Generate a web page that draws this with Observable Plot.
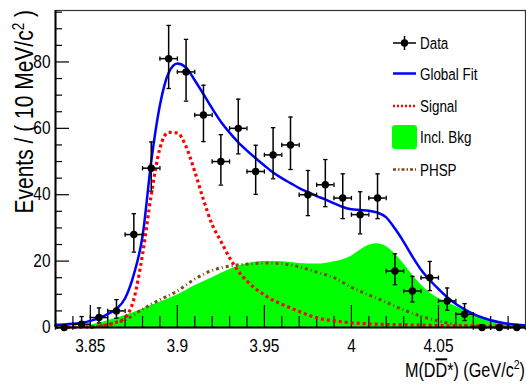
<!DOCTYPE html>
<html><head><meta charset="utf-8">
<script src="https://cdn.jsdelivr.net/npm/d3@7"></script>
<script src="https://cdn.jsdelivr.net/npm/@observablehq/plot@0.6"></script>
<style>body{margin:0;background:#fff}</style>
</head><body><div id="chart"></div>
<script>
// ---- data ----
const binCenters = [3.835,3.845,3.855,3.865,3.875,3.885,3.895,3.905,3.915,3.925,3.935,3.945,3.955,3.965,3.975,3.985,3.995,4.005,4.015,4.025,4.035,4.045,4.055,4.065,4.075,4.085,4.095];
const counts  = [0,1,3,5,28,48,81,77,64,50,60,47,52,55,40,43,39,34,39,17,11,15,8,4,0,0,0];
const errLow  = [0,0.8,1.6,2.2,5.3,6.9,9.0,8.8,8.0,7.1,7.7,6.9,7.2,7.4,6.3,6.6,6.2,5.8,6.2,4.1,3.3,3.9,2.8,1.9,0,0,0];
const errHigh = [0,2.3,2.9,3.4,6.3,7.9,10,9.8,9.0,8.1,8.8,7.9,8.2,8.4,7.3,7.6,7.3,6.9,7.3,5.2,4.4,4.9,3.9,3.2,0,0,0];
const binHalf = 0.005;

const fitX = [3.83,3.835,3.84,3.845,3.85,3.855,3.86,3.865,3.87,3.875,3.88,3.885,3.89,3.895,3.9,3.905,3.91,3.915,3.92,3.925,3.93,3.935,3.94,3.945,3.95,3.955,3.96,3.965,3.97,3.975,3.98,3.985,3.99,3.995,4.0,4.005,4.01,4.015,4.02,4.025,4.03,4.035,4.04,4.045,4.05,4.055,4.06,4.065,4.07,4.075,4.08,4.085,4.09,4.095,4.1];
const fitY = [0.8,0.9,1.1,1.4,2.0,2.8,4.0,5.6,8.8,16,27.5,50,67,76.7,79.5,78.3,74.5,70.3,66,62,58.7,55.8,53.3,51,48.8,46.7,45,43.5,42,40.8,39.6,38.6,37.4,36.3,35.6,35.4,35.2,34.6,33.2,29.8,25.8,21.4,17.4,14.3,11.6,9.1,7.1,5.5,4.1,3.0,2.2,1.6,1.1,0.8,0.6];

const sigX = [3.83,3.84,3.85,3.855,3.86,3.865,3.87,3.875,3.88,3.885,3.89,3.895,3.9,3.905,3.91,3.915,3.92,3.925,3.93,3.935,3.94,3.945,3.95,3.955,3.96,3.965,3.97,3.975,3.98,3.99,4.0,4.01,4.02,4.04,4.06,4.08,4.1];
const sigY = [0.05,0.1,0.2,0.4,0.8,1.6,3,8.5,22,40,54,58.8,58.6,54.5,47,38.5,31,26,21,17,14,11.7,9.8,8.2,7,5.9,4.8,3.8,2.9,2.0,1.4,1.1,0.9,0.7,0.5,0.45,0.4];

const bkgX = [3.83,3.84,3.85,3.86,3.87,3.88,3.89,3.9,3.91,3.92,3.93,3.94,3.95,3.96,3.97,3.98,3.99,4.0,4.005,4.01,4.015,4.02,4.025,4.03,4.035,4.04,4.045,4.05,4.06,4.07,4.08,4.09,4.1];
const bkgY = [0,0.2,0.7,2.0,3.6,5.6,7.6,9.8,12.6,15,17.5,19.2,19.9,19.8,19.3,19.1,19.8,21.5,23.3,24.8,25.2,24.4,22.2,19.2,15.9,12.9,10.5,8.8,6.3,4.0,2.3,1.2,0.8];

const phX = [3.85,3.855,3.86,3.87,3.88,3.89,3.9,3.91,3.92,3.93,3.94,3.95,3.96,3.97,3.98,3.99,4.0,4.01,4.02,4.03,4.04,4.05,4.06,4.07,4.08,4.09,4.1];
const phY = [0,0.4,0.9,2.3,5.5,8.4,11,14.6,17.2,18.5,19.1,19.4,19.2,18.3,16.7,15,12.1,9.8,7.6,5.3,3.4,2.0,0.9,0.4,0.15,0.05,0];

const xMajorTicks = [3.85, 3.9, 3.95, 4, 4.05];
const xMinorTicks = [3.83,3.84,3.86,3.87,3.88,3.89,3.91,3.92,3.93,3.94,3.96,3.97,3.98,3.99,4.01,4.02,4.03,4.04,4.06,4.07,4.08,4.09];
const yMajorTicks = [0, 20, 40, 60, 80];
const yMinorTicks = [5,10,15,25,30,35,45,50,55,65,70,75,85,90,95];

const legendLabels = ["Data", "Global Fit", "Signal", "Incl. Bkg", "PHSP"];

// ---- layout ----
const W = 526, H = 385, mL = 55, mR = 1, mT = 10, mB = 58;
const xDom = [3.83, 4.1], yDom = [0, 95.5];
const FONT = '"Liberation Sans",Arial,sans-serif';
const yPerPx = (yDom[1] - yDom[0]) / (H - mT - mB);
const xPerPx = (xDom[1] - xDom[0]) / (W - mL - mR);

const pts = binCenters.map((x, i) => ({x, y: counts[i], lo: counts[i] - errLow[i], hi: counts[i] + errHigh[i], e: errLow[i] > 0}));
const fit = fitX.map((x, i) => ({x, y: fitY[i]}));
const sig = sigX.map((x, i) => ({x, y: sigY[i]}));
const bkg = bkgX.map((x, i) => ({x, y: bkgY[i]}));
const ph = phX.map((x, i) => ({x, y: phY[i]}));

const hcap = {draw(ctx, size) { const r = Math.sqrt(size / Math.PI); ctx.moveTo(-r, 0); ctx.lineTo(r, 0); }};
const vcap = {draw(ctx, size) { const r = Math.sqrt(size / Math.PI); ctx.moveTo(0, -r); ctx.lineTo(0, r); }};

const GREEN = "#00ff00", BLUE = "#0000ff", RED = "#ff0000", BROWN = "#7a4a1c";

const plot = Plot.plot({
  width: W, height: H, marginLeft: mL, marginRight: mR, marginTop: mT, marginBottom: mB,
  style: {fontFamily: FONT, fontSize: "18px", background: "white", color: "black", overflow: "visible"},
  x: {domain: xDom},
  y: {domain: yDom},
  marks: [
    Plot.areaY(bkg, {x: "x", y: "y", fill: GREEN, curve: "monotone-x"}),
    // axis ticks (drawn inward)
    Plot.ruleX(xMajorTicks, {x: d => d, y1: 0, y2: 22 * yPerPx, stroke: "black", strokeWidth: 1.2}),
    Plot.ruleX(xMinorTicks, {x: d => d, y1: 0, y2: 11 * yPerPx, stroke: "black", strokeWidth: 1.2}),
    Plot.ruleY(yMajorTicks, {y: d => d, x1: xDom[0], x2: xDom[0] + 14 * xPerPx, stroke: "black", strokeWidth: 1.2}),
    Plot.ruleY(yMinorTicks, {y: d => d, x1: xDom[0], x2: xDom[0] + 7 * xPerPx, stroke: "black", strokeWidth: 1.2}),
    Plot.line(ph, {x: "x", y: "y", stroke: BROWN, strokeWidth: 3, strokeDasharray: "3,3,1,3", strokeLinecap: "butt", curve: "monotone-x"}),
    Plot.line(sig, {x: "x", y: "y", stroke: RED, strokeWidth: 3.2, strokeDasharray: "3,3", strokeLinecap: "butt", curve: "monotone-x"}),
    Plot.line(fit, {x: "x", y: "y", stroke: BLUE, strokeWidth: 2.5, curve: "monotone-x"}),
    // data with error bars
    Plot.ruleY(pts, {y: "y", x1: d => d.x - binHalf, x2: d => d.x + binHalf, stroke: "black", strokeWidth: 1.5}),
    Plot.dot(pts, {x: d => d.x - binHalf, y: "y", symbol: vcap, r: 2.2, stroke: "black", strokeWidth: 1.3}),
    Plot.dot(pts, {x: d => d.x + binHalf, y: "y", symbol: vcap, r: 2.2, stroke: "black", strokeWidth: 1.3}),
    Plot.ruleX(pts.filter(d => d.e), {x: "x", y1: "lo", y2: "hi", stroke: "black", strokeWidth: 1.5}),
    Plot.dot(pts.filter(d => d.e), {x: "x", y: "lo", symbol: hcap, r: 2.2, stroke: "black", strokeWidth: 1.3}),
    Plot.dot(pts.filter(d => d.e), {x: "x", y: "hi", symbol: hcap, r: 2.2, stroke: "black", strokeWidth: 1.3}),
    Plot.dot(pts, {x: "x", y: "y", r: 3.7, fill: "black", stroke: "none"}),
    // frame and axes
    Plot.frame({stroke: "#333", strokeWidth: 1.2}),
    Plot.ruleX([xDom[0]], {stroke: "black", strokeWidth: 2}),
    Plot.ruleY([0], {stroke: "black", strokeWidth: 2}),
    Plot.axisX({ticks: xMajorTicks, tickSize: 0, tickPadding: 12, label: null, fontSize: 18, tickFormat: d => String(d)}),
    Plot.axisY({ticks: yMajorTicks, tickSize: 0, tickPadding: 5, label: null, fontSize: 18, tickFormat: d => String(d)})
  ]
});
document.getElementById("chart").appendChild(plot);

const svg = d3.select(plot);
// condense the tick labels horizontally (reference font is narrow)
svg.selectAll('[aria-label="x-axis tick label"] text, [aria-label="y-axis tick label"] text').each(function() {
  const t = this.getAttribute("transform") || "";
  this.setAttribute("transform", t + " scale(0.86,1)");
});
// y-axis title
const yt = svg.append("text").attr("transform", "translate(33,10) rotate(-90) scale(0.84,1)")
  .attr("text-anchor", "end").attr("font-family", FONT).attr("font-size", 25).attr("fill", "black");
yt.append("tspan").text("Events / ( 10 MeV/c");
yt.append("tspan").attr("dy", -9).attr("font-size", 16).text("2");
yt.append("tspan").attr("dy", 9).text(" )");
// x-axis title
const xt = svg.append("text").attr("transform", "translate(525,377) scale(0.81,1)")
  .attr("text-anchor", "end").attr("font-family", FONT).attr("font-size", 20).attr("fill", "black");
xt.append("tspan").text("M(D");
xt.append("tspan").style("text-decoration", "overline").text("D");
xt.append("tspan").text("*) (GeV/c");
xt.append("tspan").attr("dy", -8).attr("font-size", 13).text("2");
xt.append("tspan").attr("dy", 8).text(")");

// legend
const lg = svg.append("g").attr("font-family", FONT).attr("font-size", 17).attr("fill", "black").attr("text-anchor", "start");
const rows = [43, 73.5, 106, 137, 169.5];
const lx0 = 393, lx1 = 416, lxc = 404.5;
lg.append("line").attr("x1", lx0).attr("x2", lx1).attr("y1", rows[0]).attr("y2", rows[0]).attr("stroke", "black").attr("stroke-width", 1.5);
lg.append("line").attr("x1", lxc).attr("x2", lxc).attr("y1", rows[0] - 7).attr("y2", rows[0] + 7).attr("stroke", "black").attr("stroke-width", 1.5);
lg.append("circle").attr("cx", lxc).attr("cy", rows[0]).attr("r", 3.7).attr("fill", "black");
lg.append("line").attr("x1", lx0).attr("x2", lx1).attr("y1", rows[1]).attr("y2", rows[1]).attr("stroke", BLUE).attr("stroke-width", 2.5);
lg.append("line").attr("x1", lx0).attr("x2", lx1).attr("y1", rows[2]).attr("y2", rows[2]).attr("stroke", RED).attr("stroke-width", 2.5).attr("stroke-dasharray", "2,2");
lg.append("rect").attr("x", 392).attr("y", rows[3] - 12).attr("width", 25).attr("height", 24).attr("rx", 3).attr("fill", GREEN);
lg.append("line").attr("x1", lx0).attr("x2", lx1).attr("y1", rows[4]).attr("y2", rows[4]).attr("stroke", BROWN).attr("stroke-width", 2.5).attr("stroke-dasharray", "3,2,1.5,2");
legendLabels.forEach((t, i) => {
  lg.append("text").attr("transform", `translate(420,${rows[i]}) scale(0.79,1)`).attr("dy", "0.36em").text(t);
});
</script>
</body></html>
